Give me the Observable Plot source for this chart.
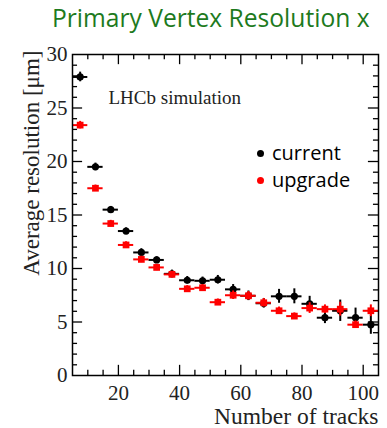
<!DOCTYPE html>
<html>
<head>
<meta charset="utf-8">
<script src="https://cdn.jsdelivr.net/npm/d3@7"></script>
<script src="https://cdn.jsdelivr.net/npm/@observablehq/plot@0.6"></script>
<style>
  html, body { margin: 0; padding: 0; background: #fff; overflow: hidden; }
  #wrap { position: relative; width: 387px; height: 428px; overflow: hidden; }
  #title { position: relative; height: 38px; }
  #title span { position: absolute; left: 52px; top: 1px; font: 24.6px "Open Sans", sans-serif; line-height: 33px; color: #1d7a1d; white-space: nowrap; }
  #legend { position: absolute; left: 254px; top: 139px; font: 20px "Open Sans", sans-serif; line-height: 27px; color: #000; }
  #legend div { position: relative; padding-left: 18px; }
  #legend i { position: absolute; left: 3px; top: 11px; width: 7px; height: 7px; border-radius: 50%; }
</style>
</head>
<body>
<div id="wrap">
  <div id="title"><span>Primary Vertex Resolution x</span></div>
  <div id="chart"></div>
  <div id="legend"></div>
</div>
<script>
const nTracks = [7.5, 12.5, 17.5, 22.5, 27.5, 32.5, 37.5, 42.5, 47.5, 52.5, 57.5, 62.5, 67.5, 72.5, 77.5, 82.5, 87.5, 92.5, 97.5, 102.5];
const current = [27.9, 19.5, 15.5, 13.5, 11.5, 10.8, 9.5, 8.9, 8.85, 8.95, 8.05, 7.45, 6.75, 7.4, 7.4, 6.7, 5.4, 6.05, 5.4, 4.75];
const currentErr = [0.45, 0.35, 0.3, 0.3, 0.35, 0.3, 0.35, 0.35, 0.35, 0.4, 0.45, 0.45, 0.45, 0.65, 0.7, 0.7, 0.55, 1.0, 0.9, 0.9];
const upgrade = [23.4, 17.5, 14.2, 12.2, 10.85, 10.1, 9.45, 8.1, 8.2, 6.85, 7.5, 7.45, 6.8, 6.05, 5.55, 6.3, 6.2, 6.2, 4.75, 6.05];
const upgradeErr = [0.35, 0.3, 0.3, 0.3, 0.3, 0.3, 0.3, 0.3, 0.3, 0.3, 0.4, 0.4, 0.4, 0.35, 0.3, 0.5, 0.4, 0.65, 0.35, 0.55];
const binHalfWidth = 2.5;
const seriesNames = ["current", "upgrade"];
const seriesColors = ["#000000", "#ff0000"];
const xTickLabels = [20, 40, 60, 80, 100];
const yTickLabels = [0, 5, 10, 15, 20, 25, 30];
const xDomain = [5, 105];
const yDomain = [0, 30];

const cur = nTracks.map((x, i) => ({x, v: current[i], e: currentErr[i]}));
const upg = nTracks.map((x, i) => ({x, v: upgrade[i], e: upgradeErr[i]}));

const xMinor = d3.range(10, 105, 5).filter(d => d % 20 !== 0);
const yMinor = d3.range(1, 30, 1).filter(d => d % 5 !== 0);
const yMajor = yTickLabels.filter(d => d > 0 && d < 30);

const xMajLen = 0.95, xMinLen = 0.48;   // in y units (vertical tick length)
const yMajLen = 3.3, yMinLen = 1.65;    // in x units (horizontal tick length)
const serif = "'Liberation Serif', 'Times New Roman', serif";

function series(data, color, symbol, r) {
  return [
    Plot.ruleY(data, {y: "v", x1: d => d.x - binHalfWidth, x2: d => d.x + binHalfWidth, stroke: color, strokeWidth: 2}),
    Plot.ruleX(data, {x: "x", y1: d => d.v - d.e, y2: d => d.v + d.e, stroke: color, strokeWidth: 2}),
    Plot.dot(data, {x: "x", y: "v", fill: color, stroke: "none", symbol, r})
  ];
}

const chart = Plot.plot({
  width: 387,
  height: 390,
  marginLeft: 72,
  marginRight: 9,
  marginTop: 16,
  marginBottom: 53,
  x: {domain: xDomain, axis: null},
  y: {domain: yDomain, axis: null},
  style: {background: "#fff"},
  marks: [
    Plot.ruleX(xTickLabels, {x: d => d, y1: 0, y2: xMajLen, stroke: "black", strokeWidth: 1.3}),
    Plot.ruleX(xMinor, {x: d => d, y1: 0, y2: xMinLen, stroke: "black", strokeWidth: 1.3}),
    Plot.ruleX(xTickLabels, {x: d => d, y1: 30, y2: 30 - xMajLen, stroke: "black", strokeWidth: 1.3}),
    Plot.ruleX(xMinor, {x: d => d, y1: 30, y2: 30 - xMinLen, stroke: "black", strokeWidth: 1.3}),
    Plot.ruleY(yMajor, {y: d => d, x1: 5, x2: 5 + yMajLen, stroke: "black", strokeWidth: 1.3}),
    Plot.ruleY(yMinor, {y: d => d, x1: 5, x2: 5 + yMinLen, stroke: "black", strokeWidth: 1.3}),
    Plot.ruleY(yMajor, {y: d => d, x1: 105, x2: 105 - yMajLen, stroke: "black", strokeWidth: 1.3}),
    Plot.ruleY(yMinor, {y: d => d, x1: 105, x2: 105 - yMinLen, stroke: "black", strokeWidth: 1.3}),
    Plot.text(xTickLabels, {x: d => d, y: 0, text: d => String(d), dy: 10, lineAnchor: "top", fontSize: 21, fontFamily: serif, fill: "#222"}),
    Plot.text(yTickLabels, {x: 5, y: d => d, text: d => String(d), dx: -5, textAnchor: "end", fontSize: 21, fontFamily: serif, fill: "#222"}),
    Plot.text(["Number of tracks"], {frameAnchor: "bottom-right", textAnchor: "end", lineAnchor: "top", dy: 32, fontSize: 23.5, fontFamily: serif, fill: "#222"}),
    Plot.text(["Average resolution [\u03bcm]"], {frameAnchor: "top-left", rotate: -90, textAnchor: "end", dx: -50, dy: -4, fontSize: 23, fontFamily: serif, fill: "#222"}),
    Plot.text(["LHCb simulation"], {frameAnchor: "top-left", textAnchor: "start", dx: 36, dy: 36, fontSize: 19, fontFamily: serif, fill: "#222"}),
    ...series(cur, seriesColors[0], "circle", 3.6),
    ...series(upg, seriesColors[1], "square", 3.8),
    Plot.frame({stroke: "black", strokeWidth: 1.5})
  ]
});
document.getElementById("chart").appendChild(chart);

const legend = document.getElementById("legend");
seriesNames.forEach((name, i) => {
  const row = document.createElement("div");
  const sw = document.createElement("i");
  sw.style.background = seriesColors[i];
  row.appendChild(sw);
  row.appendChild(document.createTextNode(name));
  legend.appendChild(row);
});
</script>
</body>
</html>
